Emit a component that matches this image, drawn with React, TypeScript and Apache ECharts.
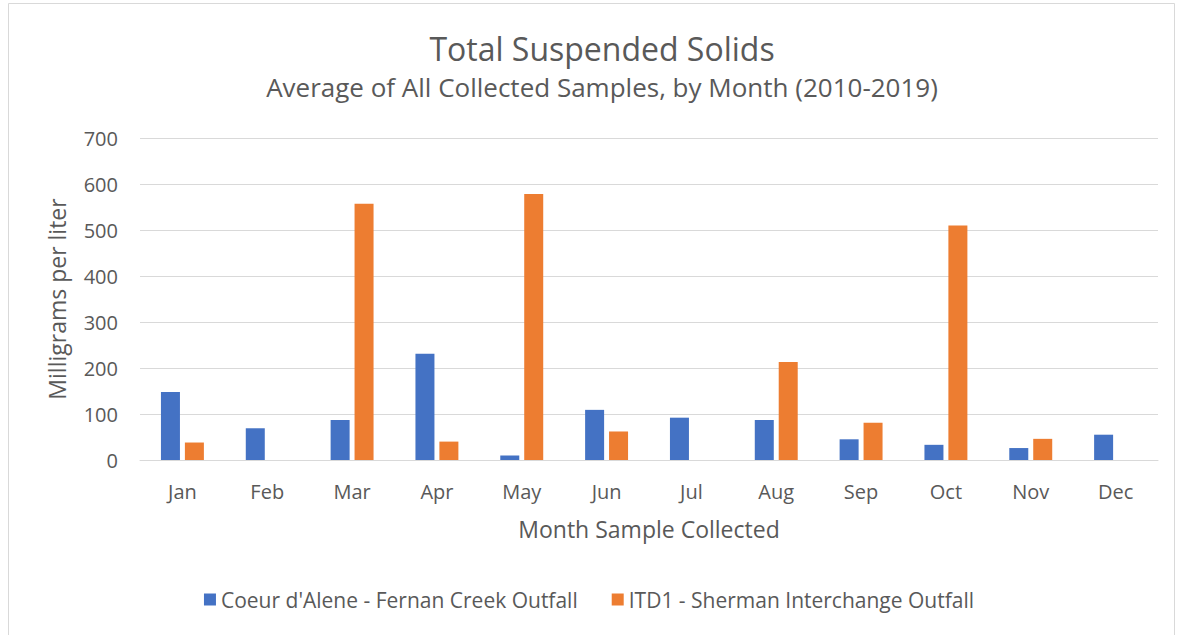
import React, { useEffect, useRef } from "react";
import * as echarts from "echarts";

const months = ["Jan", "Feb", "Mar", "Apr", "May", "Jun", "Jul", "Aug", "Sep", "Oct", "Nov", "Dec"];
const fernanCreek = [148, 69, 87, 231, 10, 109, 92, 87, 45, 33, 26, 55];
const shermanInterchange = [38, null, 557, 40, 578, 62, null, 213, 81, 510, 46, null];
const seriesNames = ["Coeur d'Alene - Fernan Creek Outfall", "ITD1 - Sherman Interchange Outfall"];

const FONT = "'Open Sans', sans-serif";
const TXT = "#595959";

export default function App() {
  const ref = useRef<HTMLDivElement>(null);
  useEffect(() => {
    document.body.style.margin = "0";
    const chart = echarts.init(ref.current!, null, { renderer: "svg" });
    chart.setOption({
      animation: false,
      backgroundColor: "#fff",
      textStyle: { fontFamily: FONT, color: TXT },
      title: {
        text: "Total Suspended Solids",
        subtext: "Average of All Collected Samples, by Month (2010-2019)",
        left: 597,
        textAlign: "center",
        top: 27,
        itemGap: 10,
        textStyle: { fontFamily: FONT, fontSize: 32, fontWeight: "normal", color: TXT },
        subtextStyle: { fontFamily: FONT, fontSize: 26, color: TXT },
      },
      graphic: [
        {
          type: "rect",
          shape: { x: 8.5, y: 3.5, width: 1166, height: 640 },
          style: { fill: "none", stroke: "#d9d9d9", lineWidth: 1 },
          silent: true,
        },
      ],
      legend: {
        bottom: 20,
        left: "center",
        itemWidth: 12,
        itemHeight: 12,
        itemGap: 34,
        icon: "rect",
        textStyle: { fontFamily: FONT, fontSize: 21, color: TXT },
        data: seriesNames,
      },
      grid: { left: 140, right: 20, top: 138, bottom: 175 },
      xAxis: {
        type: "category",
        data: months,
        name: "Month Sample Collected",
        nameLocation: "middle",
        nameGap: 57,
        nameTextStyle: { fontFamily: FONT, fontSize: 23, color: TXT },
        axisLine: { show: true, lineStyle: { color: "#d9d9d9" } },
        axisTick: { show: false },
        axisLabel: { fontFamily: FONT, fontSize: 20, color: TXT, margin: 21 },
      },
      yAxis: {
        type: "value",
        min: 0,
        max: 700,
        interval: 100,
        name: "Milligrams per liter",
        nameLocation: "middle",
        nameGap: 72,
        nameTextStyle: { fontFamily: FONT, fontSize: 23, color: TXT },
        axisLine: { show: false },
        axisTick: { show: false },
        axisLabel: { fontFamily: FONT, fontSize: 20, color: TXT, margin: 22 },
        splitLine: { lineStyle: { color: "#d9d9d9", width: 1 } },
      },
      series: [
        {
          name: seriesNames[0],
          type: "bar",
          data: fernanCreek,
          itemStyle: { color: "#4472C4" },
          barWidth: 19,
          barGap: "26%",
        },
        {
          name: seriesNames[1],
          type: "bar",
          data: shermanInterchange,
          itemStyle: { color: "#ED7D31" },
          barWidth: 19,
          barGap: "26%",
        },
      ],
    });
    return () => chart.dispose();
  }, []);
  return <div ref={ref} style={{ width: 1178, height: 635 }} />;
}
